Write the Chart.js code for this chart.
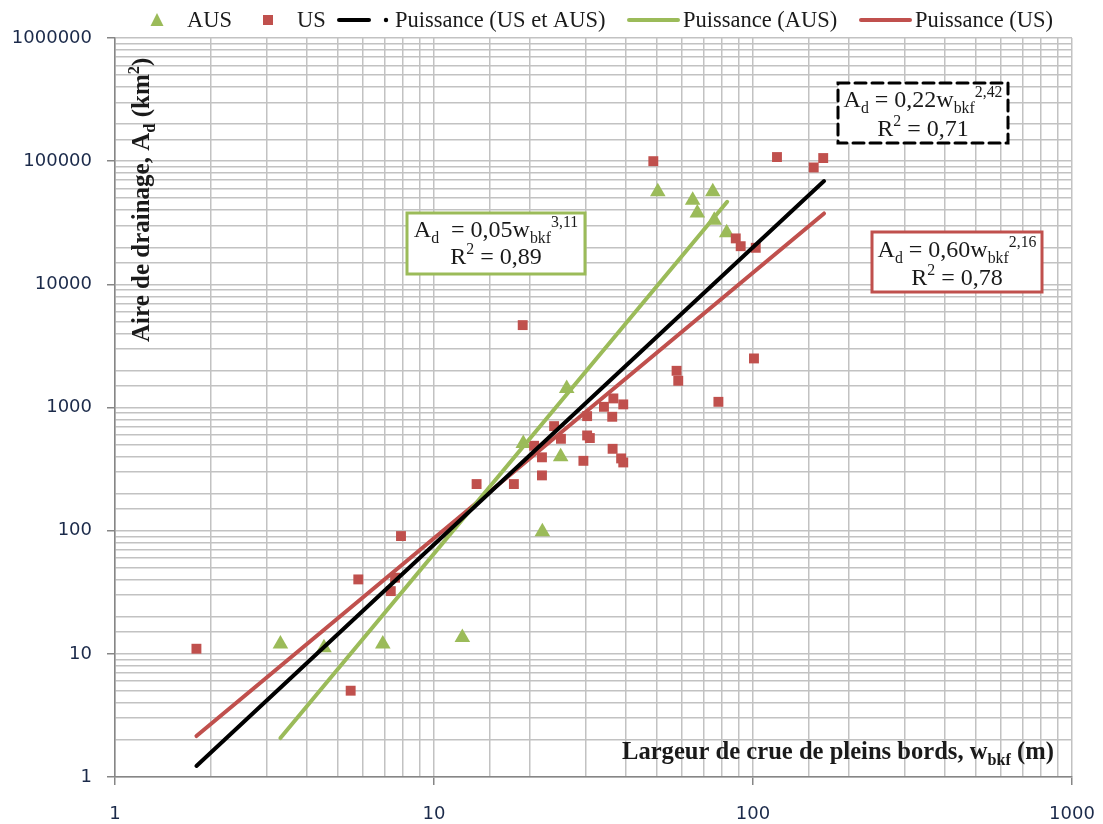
<!DOCTYPE html>
<html>
<head>
<meta charset="utf-8">
<script src="https://cdn.jsdelivr.net/npm/chart.js@4.4.0/dist/chart.umd.min.js"></script>
<style>
    html, body { margin: 0; padding: 0; background: #ffffff; }
    #wrap { width: 1103px; height: 824px; }
</style>
</head>
<body>
<div id="wrap"><canvas id="chart" width="1103" height="824"></canvas></div>
<script>
// Largeur de crue de pleins bords (m) / aire de drainage (km2)
const ausWidth = [3.3, 4.52, 6.91, 12.27, 19.05, 21.86, 24.95, 26.06, 50.3, 64.7, 66.9, 74.8, 75.6, 82.7];
const ausArea = [12.0, 11.2, 12.0, 13.6, 511, 98, 398, 1429, 56400, 48200, 38000, 56400, 33200, 26200];

const usWidth = [1.8, 5.48, 5.79, 7.32, 7.55, 7.88, 13.6, 17.8, 18.97, 20.6, 21.8, 21.8, 23.8, 25.0,
    29.4, 30.2, 30.2, 30.8, 34.1, 36.2, 36.3, 36.5, 38.6, 39.2, 39.2, 48.7, 57.6, 58.3, 77.9,
    88.3, 91.5, 100.7, 102, 118.9, 155, 166];
const usArea = [11.0, 5.02, 40.2, 32.3, 41.5, 90.4, 239, 239, 4666, 489, 394, 281, 706, 557,
    369, 851, 593, 565, 1013, 841, 462, 1185, 386, 1060, 358, 100000, 1986, 1648, 1112,
    23600, 20400, 2502, 19800, 108000, 88900, 106000];

// Courbes de tendance (extrémités)
const fitAllWidth = [1.8, 167];
const fitAllArea = [1.23, 69000];
const fitAusWidth = [3.3, 83];
const fitAusArea = [2.07, 46800];
const fitUsWidth = [1.8, 167];
const fitUsArea = [2.15, 37600];

const xTicks = [1, 10, 100, 1000];
const yTicks = [1, 10, 100, 1000, 10000, 100000, 1000000];

const legendLabels = ['AUS', 'US', 'Puissance (US et AUS)', 'Puissance (AUS)', 'Puissance (US)'];

const GREEN = '#9bbb59';
const RED = '#c0504d';
const SERIF = '"Liberation Serif", "Times New Roman", serif';

function toPoints(xs, ys) {
    return xs.map((x, i) => ({ x: x, y: ys[i] }));
}

function isDecade(v, list) {
    return list.some(t => Math.abs(t - v) < 1e-6 * t);
}

// Draw text with subscripts / superscripts
function drawRich(ctx, parts, x, y, size, weight, align) {
    const fonts = parts.map(p => `${weight} ${p[1] ? size * 0.66 : size}px ${SERIF}`);
    let total = 0;
    parts.forEach((p, i) => {
        ctx.font = fonts[i];
        total += ctx.measureText(p[0]).width;
    });
    let cx = align === 'center' ? x - total / 2 : x;
    parts.forEach((p, i) => {
        ctx.font = fonts[i];
        let dy = 0;
        if (p[1] === 1) dy = size * 0.24;
        if (p[1] === 2) dy = -size * 0.42;
        ctx.fillText(p[0], cx, y + dy);
        cx += ctx.measureText(p[0]).width;
    });
}

function drawBox(ctx, x1, y1, x2, y2, color, dashed, line1, line2, cx, b1, b2) {
    ctx.save();
    ctx.fillStyle = '#ffffff';
    ctx.fillRect(x1, y1, x2 - x1, y2 - y1);
    ctx.strokeStyle = color;
    ctx.lineWidth = 3;
    if (dashed) ctx.setLineDash([11, 6]);
    ctx.strokeRect(x1, y1, x2 - x1, y2 - y1);
    ctx.setLineDash([]);
    ctx.fillStyle = '#1a1a1a';
    ctx.textBaseline = 'alphabetic';
    drawRich(ctx, line1, cx, b1, 24, 'normal', 'center');
    drawRich(ctx, line2, cx, b2, 24, 'normal', 'center');
    ctx.restore();
}

// Custom legend, axis titles and equation boxes
const decorPlugin = {
    id: 'decor',
    afterDraw(chart) {
        const ctx = chart.ctx;
        ctx.save();
        ctx.textBaseline = 'alphabetic';

        // legend
        const ly = 20;
        ctx.fillStyle = GREEN;
        ctx.beginPath();
        ctx.moveTo(157, ly - 7);
        ctx.lineTo(163.5, ly + 6);
        ctx.lineTo(150.5, ly + 6);
        ctx.closePath();
        ctx.fill();
        ctx.fillStyle = RED;
        ctx.fillRect(263, ly - 5, 10, 10);

        ctx.lineCap = 'round';
        ctx.lineWidth = 4;
        ctx.strokeStyle = '#000';
        ctx.beginPath(); ctx.moveTo(339, ly); ctx.lineTo(369, ly); ctx.stroke();
        ctx.fillStyle = '#000';
        ctx.beginPath(); ctx.arc(386, ly, 2.2, 0, Math.PI * 2); ctx.fill();
        ctx.strokeStyle = GREEN;
        ctx.beginPath(); ctx.moveTo(629, ly); ctx.lineTo(678, ly); ctx.stroke();
        ctx.strokeStyle = RED;
        ctx.beginPath(); ctx.moveTo(861, ly); ctx.lineTo(910, ly); ctx.stroke();

        ctx.fillStyle = '#1a1a1a';
        ctx.font = `22.5px ${SERIF}`;
        ctx.fillText(legendLabels[0], 187, 27);
        ctx.fillText(legendLabels[1], 297, 27);
        ctx.fillText(legendLabels[2], 395, 27);
        ctx.fillText(legendLabels[3], 683, 27);
        ctx.fillText(legendLabels[4], 915, 27);

        // x axis title
        drawRich(ctx, [['Largeur de crue de pleins bords, w', 0], ['bkf', 1], [' (m)', 0]],
            622, 759, 24.6, 'bold', 'left');

        // y axis title
        ctx.save();
        ctx.translate(149, 342);
        ctx.rotate(-Math.PI / 2);
        drawRich(ctx, [['Aire de drainage, A', 0], ['d', 1], [' (km', 0], ['2', 2], [')', 0]],
            0, 0, 25, 'bold', 'left');
        ctx.restore();

        // equation boxes
        drawBox(ctx, 838, 83, 1008, 143, '#000', true,
            [['A', 0], ['d', 1], [' = 0,22w', 0], ['bkf', 1], ['2,42', 2]],
            [['R', 0], ['2', 2], [' = 0,71', 0]], 923, 107, 136);
        drawBox(ctx, 407, 213, 585, 274, GREEN, false,
            [['A', 0], ['d', 1], ['  = 0,05w', 0], ['bkf', 1], ['3,11', 2]],
            [['R', 0], ['2', 2], [' = 0,89', 0]], 496, 237, 264);
        drawBox(ctx, 872, 232, 1042, 292, RED, false,
            [['A', 0], ['d', 1], [' = 0,60w', 0], ['bkf', 1], ['2,16', 2]],
            [['R', 0], ['2', 2], [' = 0,78', 0]], 957, 257, 285);

        ctx.restore();
    }
};

function tickColor(c, list) {
    return c.tick && isDecade(c.tick.value, list) ? '#868686' : 'rgba(0,0,0,0)';
}

const ctx = document.getElementById('chart');

new Chart(ctx, {
    type: 'scatter',
    data: {
        datasets: [
            {
                label: legendLabels[2],
                type: 'line',
                data: toPoints(fitAllWidth, fitAllArea),
                borderColor: '#000000',
                borderWidth: 4,
                borderCapStyle: 'round',
                pointRadius: 0,
                showLine: true,
                fill: false,
                order: 1
            },
            {
                label: legendLabels[3],
                type: 'line',
                data: toPoints(fitAusWidth, fitAusArea),
                borderColor: GREEN,
                borderWidth: 4,
                borderCapStyle: 'round',
                pointRadius: 0,
                showLine: true,
                fill: false,
                order: 2
            },
            {
                label: legendLabels[4],
                type: 'line',
                data: toPoints(fitUsWidth, fitUsArea),
                borderColor: RED,
                borderWidth: 4,
                borderCapStyle: 'round',
                pointRadius: 0,
                showLine: true,
                fill: false,
                order: 3
            },
            {
                label: legendLabels[0],
                data: toPoints(ausWidth, ausArea),
                pointStyle: 'triangle',
                pointRadius: 9,
                pointHoverRadius: 9,
                backgroundColor: GREEN,
                borderColor: GREEN,
                borderWidth: 0,
                order: 5
            },
            {
                label: legendLabels[1],
                data: toPoints(usWidth, usArea),
                pointStyle: 'rect',
                pointRadius: 7,
                pointHoverRadius: 7,
                backgroundColor: RED,
                borderColor: RED,
                borderWidth: 0,
                order: 4
            }
        ]
    },
    options: {
        responsive: false,
        animation: false,
        events: [],
        layout: {
            padding: { top: 38, right: 31, left: 0, bottom: 0 }
        },
        plugins: {
            legend: { display: false },
            tooltip: { enabled: false }
        },
        scales: {
            x: {
                type: 'logarithmic',
                min: 1,
                max: 1000,
                afterFit(scale) {
                    scale.height = 47;
                    scale.paddingLeft = 0;
                    scale.paddingRight = 0;
                },
                border: { color: '#868686', width: 1.5 },
                grid: {
                    color: '#c2c2c2',
                    lineWidth: 1.5,
                    drawTicks: true,
                    tickLength: 8,
                    tickColor: c => tickColor(c, xTicks),
                    tickWidth: 1.5
                },
                ticks: {
                    autoSkip: false,
                    maxRotation: 0,
                    padding: 19,
                    color: '#1b2a4a',
                    font: { family: '"DejaVu Sans", Verdana, sans-serif', size: 18 },
                    callback: v => isDecade(v, xTicks) ? String(v) : ''
                }
            },
            y: {
                type: 'logarithmic',
                min: 1,
                max: 1000000,
                afterFit(scale) {
                    scale.width = 115;
                    scale.paddingTop = 0;
                    scale.paddingBottom = 0;
                },
                border: { color: '#868686', width: 1.5 },
                grid: {
                    color: '#c2c2c2',
                    lineWidth: 1.5,
                    drawTicks: true,
                    tickLength: 8,
                    tickColor: c => tickColor(c, yTicks),
                    tickWidth: 1.5
                },
                ticks: {
                    autoSkip: false,
                    padding: 15,
                    color: '#1b2a4a',
                    font: { family: '"DejaVu Sans", Verdana, sans-serif', size: 18 },
                    callback: v => isDecade(v, yTicks) ? String(v) : ''
                }
            }
        }
    },
    plugins: [decorPlugin]
});
</script>
</body>
</html>
